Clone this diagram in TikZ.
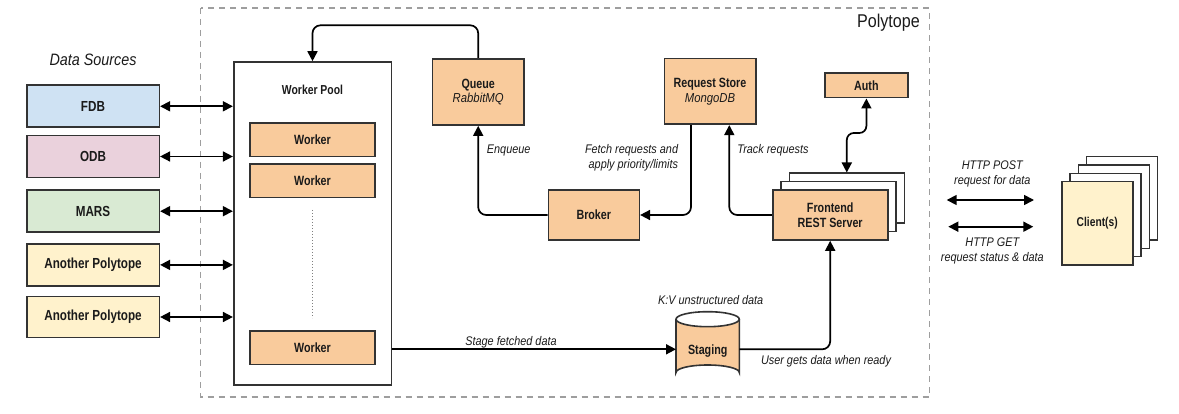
\documentclass[tikz,border=0pt]{standalone}
\usepackage{fontspec}
\setmainfont{Liberation Sans}[FakeStretch=0.87]
\newfontfamily\boxfont{Liberation Sans}[FakeStretch=0.8]
\newfontfamily\itfont{Liberation Sans}[FakeStretch=0.87]
\newcommand\sublab{\itfont\mdseries\itshape\fontsize{13}{14.5}\selectfont}
\usetikzlibrary{arrows.meta,calc}
\definecolor{orng}{HTML}{F9CB9C}
\definecolor{fdbc}{HTML}{CFE2F3}
\definecolor{odbc}{HTML}{EAD1DC}
\definecolor{marsc}{HTML}{D9EAD3}
\definecolor{yelc}{HTML}{FFF2CC}
\definecolor{edge}{HTML}{333333}
\definecolor{ink}{HTML}{1A1A1A}
\definecolor{dashc}{HTML}{9E9E9E}
\tikzset{
  box/.style={draw=edge, line width=1.6pt, inner sep=0pt, align=center, text=ink,
    font=\boxfont\bfseries\fontsize{13.4}{14.5}\selectfont},
  srcbox/.style={box, minimum width=132.6, minimum height=42,
    font=\boxfont\bfseries\fontsize{14.6}{14.6}\selectfont},
  obox/.style={box, fill=orng},
  wbox/.style={box, fill=white},
  lbl/.style={font=\itfont\itshape\fontsize{12.5}{15}\selectfont, text=ink, align=center, inner sep=0pt},
  arr/.style={draw=black, line width=1.7pt, -{Triangle[length=10pt,width=10pt]}},
  dbl/.style={draw=black, line width=1.7pt, {Triangle[length=10pt,width=10pt]}-{Triangle[length=10pt,width=10pt]}},
}
\begin{document}
\begin{tikzpicture}[x=1pt,y=-1pt]
\useasboundingbox (0,0) rectangle (1179,414);
\fill[white] (0,0) rectangle (1179,414);
% Polytope border
\draw[dashc, line width=1.3pt, dash pattern=on 6pt off 5pt] (200.7,8) rectangle (929.3,397);
\node[anchor=east, font=\itfont\fontsize{18.5}{18.5}\selectfont, text=ink, inner sep=0pt] (ptitle) at (920,22.7) {Polytope};
% Data sources
\node[lbl, font=\itfont\itshape\fontsize{16.5}{16.5}\selectfont] (dstitle) at (93,60) {Data Sources};
\node[srcbox, fill=fdbc] (fdb) at (93,106.3) {FDB};
\node[srcbox, fill=odbc] (odb) at (93,156.5) {ODB};
\node[srcbox, fill=marsc] (mars) at (93,211.2) {MARS};
\node[srcbox, fill=yelc] (ap1) at (93,264.9) {Another Polytope};
\node[srcbox, fill=yelc, minimum height=41] (ap2) at (93,317) {Another Polytope};
% Worker pool
\node[wbox, minimum width=157.6, minimum height=322.7] (pool) at (312.5,223.35) {};
\node[box, draw=none, fill=none, font=\boxfont\bfseries\fontsize{13}{13}\selectfont] (pooltitle) at (312.5,90) {Worker Pool};
\node[obox, minimum width=125, minimum height=33.4] (w1) at (312.5,140) {Worker};
\node[obox, minimum width=125, minimum height=33.4] (w2) at (312.5,181) {Worker};
\node[obox, minimum width=125, minimum height=33.4] (w3) at (312.5,347.7) {Worker};
\coordinate (dotA) at (312.7,210);
\coordinate (dotB) at (312.7,318);
\draw[gray, line width=1pt, dotted] (dotA) -- (dotB);
% Queue, Request store, Broker
\node[obox, minimum width=91.7, minimum height=66.3] (queue) at (478.2,91.9) {Queue\\{\sublab RabbitMQ}};
\node[obox, minimum width=91.4, minimum height=65.6] (rs) at (710,91.5) {Request Store\\{\sublab MongoDB}};
\node[obox, minimum width=91, minimum height=50] (broker) at (593.8,215) {Broker};
% Frontend stack
\node[wbox, minimum width=115, minimum height=50] (fe3) at (846.8,198.3) {};
\node[wbox, minimum width=115, minimum height=50] (fe2) at (838.5,206.7) {};
\node[obox, minimum width=115, minimum height=50] (fe) at (830.2,215) {Frontend\\REST Server};
% Auth
\node[obox, minimum width=82.7, minimum height=24.4] (auth) at (866.4,85.5) {Auth};
% Staging cylinder
\fill[orng] (676,319.2) -- (676,372.5) arc[start angle=180, end angle=360, x radius=31.65, y radius=7.5] -- (739.3,319.2) arc[start angle=0, end angle=180, x radius=31.65, y radius=7.5] -- cycle;
\draw[edge, line width=1.6pt] (676,319.2) -- (676,372.5) arc[start angle=180, end angle=360, x radius=31.65, y radius=7.5] -- (739.3,319.2);
\draw[edge, line width=1.6pt] (707.65,319.2) ellipse[x radius=31.65, y radius=7.5];
\node[box, draw=none, fill=none] (stg) at (707.7,350.7) {Staging};
\coordinate (stgL) at (676,349.3);
\coordinate (stgR) at (739.3,349.3);
% Clients
\node[wbox, minimum width=71, minimum height=83.3] (c4) at (1122.1,198.3) {};
\node[wbox, minimum width=71, minimum height=83.3] (c3) at (1113.8,206.7) {};
\node[wbox, minimum width=71, minimum height=83.3] (c2) at (1105.5,215) {};
\node[box, fill=yelc, minimum width=71, minimum height=83.3, font=\boxfont\bfseries\fontsize{12.8}{12.8}\selectfont] (cl) at (1097.2,223.3) {Client(s)};
% Connectors: data sources
\draw[dbl] (fdb.east) -- (fdb.east -| pool.west);
\draw[dbl] (odb.east) -- (odb.east -| pool.west);
\draw[dbl] (mars.east) -- (mars.east -| pool.west);
\draw[dbl] (ap1.east) -- (ap1.east -| pool.west);
\draw[dbl] (ap2.east) -- (ap2.east -| pool.west);
% Queue -> pool
\coordinate (qtop) at (478.2,25.3);
\draw[arr, rounded corners=8pt] (queue.north) -- (qtop) -- (qtop -| pool.north) -- (pool.north);
% Broker -> queue
\draw[arr, rounded corners=8pt] (broker.west) -| (queue.south);
% Request store -> broker
\coordinate (rsout) at ([xshift=-19pt]rs.south);
\draw[arr, rounded corners=8pt] (rsout) |- (broker.east);
% Frontend -> request store
\coordinate (rsin) at ([xshift=19.3pt]rs.south);
\draw[arr, rounded corners=8pt] (fe.west) -| (rsin);
% Auth <-> frontend
\coordinate (abend) at (866.4,133);
\draw[dbl, rounded corners=7pt] (auth.south) -- (abend) -- (abend -| fe3.north) -- (fe3.north);
% Worker pool -> staging
\draw[arr] (pool.east |- stgL) -- (stgL);
% Staging -> frontend
\draw[arr, rounded corners=8pt] (stgR) -| (fe.south);
% HTTP arrows
\coordinate (h1a) at (946.7,200);
\coordinate (h1b) at (1034,200);
\coordinate (h2a) at (948.3,226.7);
\coordinate (h2b) at (1033.3,226.7);
\draw[dbl] (h1a) -- (h1b);
\draw[dbl] (h2a) -- (h2b);
% Labels
\node[lbl] (l1) at (511,342.3) {Stage fetched data};
\node[lbl] (l2) at (710.7,300) {K:V unstructured data};
\node[lbl] (l3) at (826,361) {User gets data when ready};
\node[lbl, anchor=west] (l4) at (486.7,150.7) {Enqueue};
\node[lbl, anchor=east, align=right] (l5) at (678.3,158.2) {Fetch requests and\\apply priority/limits};
\node[lbl] (l6) at (773,150.7) {Track requests};
\node[lbl] (l7) at (992.3,174) {HTTP POST\\request for data};
\node[lbl] (l8) at (992.3,251.2) {HTTP GET\\request status \& data};
\end{tikzpicture}
\end{document}
